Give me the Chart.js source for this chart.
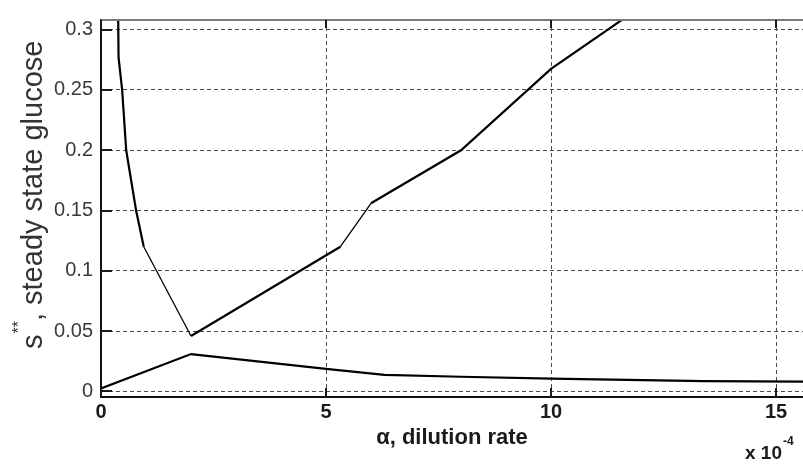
<!DOCTYPE html>
<html>
<head>
<meta charset="utf-8">
<script src="https://cdn.jsdelivr.net/npm/chart.js@4/dist/chart.umd.min.js"></script>
<style>
  html, body { margin: 0; padding: 0; background: #fff; }
  #wrap { width: 803px; height: 464px; position: relative; }
</style>
</head>
<body>
<div id="wrap"><canvas id="c" width="803" height="464"></canvas></div>
<script>
// Steady-state glucose s** against dilution rate alpha (x 10^-4)
const upperX = [0.36, 0.39, 0.47, 0.56, 0.78, 0.95, 2.0, 5.32, 6.0, 8.0, 10.0, 12.0];
const upperY = [0.40, 0.277, 0.25, 0.20, 0.15, 0.12, 0.046, 0.12, 0.156, 0.20, 0.2675, 0.319];

const lowerX = [0, 2.0, 5.0, 6.3, 8.0, 10.0, 13.4, 16.0];
const lowerY = [0.0025, 0.031, 0.0187, 0.0138, 0.0122, 0.0106, 0.0086, 0.0080];

const xTicks = [0, 5, 10, 15];
const xTickLabels = ['0', '5', '10', '15'];
const yTicks = [0, 0.05, 0.1, 0.15, 0.2, 0.25, 0.3];
const yTickLabels = ['0', '0.05', '0.1', '0.15', '0.2', '0.25', '0.3'];

const xTitle = 'α, dilution rate';
const yTitleBase = 's';
const yTitleSup = '**';
const yTitleRest = ', steady state glucose';
const xExpBase = 'x 10';
const xExpSup = '-4';

const toPoints = (xs, ys) => xs.map((x, i) => ({ x, y: ys[i] }));

// MATLAB-style frame: inward tick marks, top edge, axis titles and exponent
const axisDecor = {
  id: 'axisDecor',
  afterDraw(chart) {
    const { ctx, chartArea: a, scales: { x, y } } = chart;
    ctx.save();

    ctx.strokeStyle = '#7a7a7a';
    ctx.lineWidth = 2;
    ctx.beginPath();
    ctx.moveTo(a.left, a.top);
    ctx.lineTo(a.right, a.top);
    ctx.stroke();

    ctx.strokeStyle = '#1a1a1a';
    ctx.lineWidth = 2;
    y.ticks.forEach(t => {
      const py = Math.round(y.getPixelForValue(t.value));
      ctx.beginPath();
      ctx.moveTo(a.left, py);
      ctx.lineTo(a.left + 11, py);
      ctx.stroke();
    });
    x.ticks.forEach(t => {
      const px = Math.round(x.getPixelForValue(t.value));
      ctx.beginPath();
      ctx.moveTo(px, a.bottom);
      ctx.lineTo(px, a.bottom - 9);
      ctx.moveTo(px, a.top);
      ctx.lineTo(px, a.top + 8);
      ctx.stroke();
    });

    // y axis title, rotated, with superscript
    ctx.fillStyle = '#333';
    ctx.translate(42, 349);
    ctx.rotate(-Math.PI / 2);
    ctx.textBaseline = 'alphabetic';
    ctx.textAlign = 'left';
    ctx.font = '29px "Liberation Sans", Arial, sans-serif';
    ctx.fillText(yTitleBase, 0, 0);
    let cx = ctx.measureText(yTitleBase).width + 1;
    ctx.font = '16px "Liberation Sans", Arial, sans-serif';
    ctx.fillText(yTitleSup, cx, -18);
    cx += ctx.measureText(yTitleSup).width;
    ctx.font = '29px "Liberation Sans", Arial, sans-serif';
    ctx.fillText(yTitleRest, cx, 0);
    ctx.setTransform(1, 0, 0, 1, 0, 0);

    // exponent of the x axis
    ctx.fillStyle = '#1a1a1a';
    ctx.font = 'bold 19px "Liberation Sans", Arial, sans-serif';
    ctx.textAlign = 'left';
    ctx.fillText(xExpBase, 745, 459);
    const w = ctx.measureText(xExpBase).width;
    ctx.font = 'bold 12px "Liberation Sans", Arial, sans-serif';
    ctx.fillText(xExpSup, 745 + w + 1, 445);

    ctx.restore();
  }
};

new Chart(document.getElementById('c'), {
  type: 'scatter',
  data: {
    datasets: [
      {
        data: toPoints(upperX, upperY),
        showLine: true,
        borderColor: '#000',
        borderWidth: 2.2,
        pointRadius: 0,
        tension: 0,
        segment: {
          borderWidth: c => (c.p0DataIndex === 5 || c.p0DataIndex === 7) ? 1.3 : undefined
        }
      },
      {
        data: toPoints(lowerX, lowerY),
        showLine: true,
        borderColor: '#000',
        borderWidth: 2.2,
        pointRadius: 0,
        tension: 0
      }
    ]
  },
  options: {
    responsive: false,
    animation: false,
    devicePixelRatio: 1,
    layout: { padding: { top: 12, right: 0, left: 0, bottom: 0 } },
    plugins: { legend: { display: false }, tooltip: { enabled: false } },
    scales: {
      x: {
        type: 'linear',
        min: 0,
        max: 15.6,
        afterBuildTicks: s => { s.ticks = xTicks.map(v => ({ value: v })); },
        afterFit: s => { s.height = 67; },
        ticks: {
          autoSkip: false,
          maxRotation: 0,
          padding: 3,
          color: '#1a1a1a',
          font: { family: '"Liberation Sans", Arial, sans-serif', size: 20, weight: 'bold' },
          callback: (v, i) => xTickLabels[i]
        },
        grid: { color: '#4a4a4a', lineWidth: 1, drawTicks: false },
        border: { display: true, color: '#111', width: 2, dash: [4, 3] },
        title: {
          display: true,
          text: xTitle,
          color: '#1a1a1a',
          font: { family: '"Liberation Sans", Arial, sans-serif', size: 22, weight: 'bold' },
          padding: { top: 0, bottom: 13 }
        }
      },
      y: {
        type: 'linear',
        min: -0.0046,
        max: 0.308,
        afterBuildTicks: s => { s.ticks = yTicks.map(v => ({ value: v })); },
        afterFit: s => { s.width = 101; },
        ticks: {
          autoSkip: false,
          padding: 8,
          color: '#3a3a3a',
          font: { family: '"Liberation Sans", Arial, sans-serif', size: 20 },
          callback: (v, i) => yTickLabels[i]
        },
        grid: { color: '#4a4a4a', lineWidth: 1, drawTicks: false },
        border: { display: true, color: '#111', width: 2, dash: [4, 3] }
      }
    }
  },
  plugins: [axisDecor]
});
</script>
</body>
</html>
